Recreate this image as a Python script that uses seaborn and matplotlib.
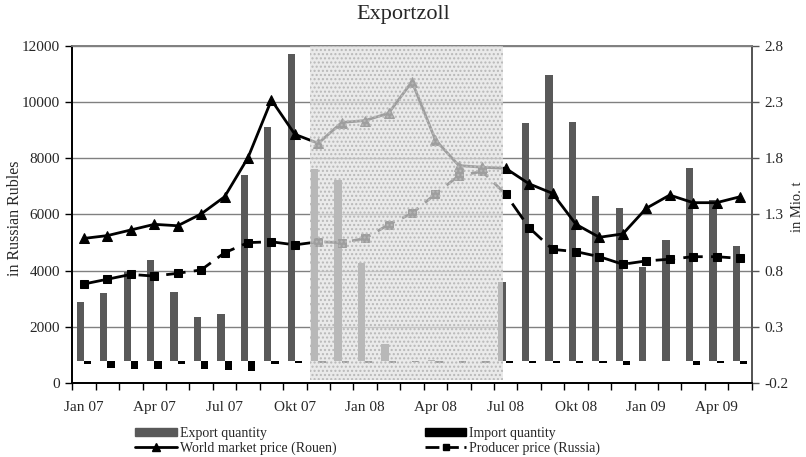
import numpy as np
import pandas as pd
import seaborn as sns
import matplotlib.pyplot as plt
from matplotlib.patches import Patch
from matplotlib.lines import Line2D

# Monthly data Jan 07 - May 09
months = ["Jan 07", "Feb 07", "Mär 07", "Apr 07", "Mai 07", "Jun 07", "Jul 07", "Aug 07", "Sep 07",
          "Okt 07", "Nov 07", "Dez 07", "Jan 08", "Feb 08", "Mär 08", "Apr 08", "Mai 08", "Jun 08",
          "Jul 08", "Aug 08", "Sep 08", "Okt 08", "Nov 08", "Dez 08", "Jan 09", "Feb 09", "Mär 09",
          "Apr 09", "Mai 09"]

# in Mio. t (right axis)
export_qty = [0.52, 0.60, 0.79, 0.90, 0.61, 0.39, 0.42, 1.65, 2.08, 2.73, 1.70, 1.61, 0.87, 0.15,
              0.0, 0.01, 0.0, 0.0, 0.70, 2.11, 2.54, 2.12, 1.46, 1.36, 0.83, 1.07, 1.71, 1.43, 1.02]
import_qty = [-0.03, -0.06, -0.07, -0.07, -0.03, -0.07, -0.08, -0.09, -0.025, -0.02, -0.02, -0.02,
              -0.02, -0.02, -0.015, -0.02, -0.02, -0.02, -0.02, -0.02, -0.02, -0.02, -0.02, -0.04,
              0.0, 0.0, -0.04, -0.02, -0.03]

# in Russian Rubles (left axis)
world_price = [5150, 5250, 5450, 5650, 5600, 6020, 6630, 8020, 10070, 8850, 8530, 9270, 9340, 9600,
               10720, 8650, 7740, 7680, 7640, 7090, 6750, 5650, 5190, 5310, 6220, 6690, 6420, 6420, 6630]
producer_price = [3530, 3700, 3870, 3810, 3910, 4030, 4640, 5000, 5030, 4920, 5030, 5000, 5150, 5640,
                  6040, 6730, 7380, 7530, 6720, 5530, 4760, 4680, 4500, 4230, 4350, 4410, 4500, 4500, 4440]

tick_labels = ["Jan 07", "Apr 07", "Jul 07", "Okt 07", "Jan 08", "Apr 08", "Jul 08", "Okt 08",
               "Jan 09", "Apr 09"]
right_ticks = [-0.2, 0.3, 0.8, 1.3, 1.8, 2.3, 2.8]
left_ticks = [0, 2000, 4000, 6000, 8000, 10000, 12000]

sns.set_theme(style="white")
plt.rcParams["font.family"] = ["Liberation Serif", "DejaVu Serif"]
plt.rcParams["font.size"] = 10
plt.rcParams["hatch.linewidth"] = 1.0

x = np.arange(len(months))
bars_df = pd.DataFrame({
    "month": months * 2,
    "value": export_qty + import_qty,
    "series": ["Export quantity"] * len(months) + ["Import quantity"] * len(months),
})

fig = plt.figure(figsize=(8.06, 4.57), dpi=100)
ax = fig.add_axes([0.0897, 0.1613, 0.8429, 0.7387])
ax2 = ax.twinx()

# Bars on the quantity axis (drawn behind the lines)
sns.barplot(data=bars_df, x="month", y="value", hue="series",
            hue_order=["Export quantity", "Import quantity"],
            palette=["#595959", "black"], saturation=1, width=0.62,
            linewidth=0, legend=False, ax=ax)
ax.set_xlim(-0.5, len(months) - 0.5)
ax.set_ylim(-0.2, 2.8)
ax.set_yticks(right_ticks)
ax.set_yticklabels([f"{t:.1f}" for t in right_ticks])
ax.set_xlabel("")
ax.grid(axis="y", color="#808080", lw=1)
ax.set_axisbelow(True)

# tick marks at month boundaries, labels every third month
ax.set_xticks(np.arange(-0.5, len(months), 1))
ax.set_xticklabels([])
ax.set_xticks(np.arange(0, len(months), 3), minor=True)
ax.set_xticklabels(tick_labels, minor=True, fontsize=11)
ax.tick_params(axis="x", which="major", direction="out", length=5, width=1, color="black", bottom=True)
ax.tick_params(axis="x", which="minor", length=0, pad=13)

# Price lines on the Rubles axis
sns.lineplot(x=x, y=world_price, color="black", marker="^", markersize=7, lw=2,
             markeredgecolor="black", ax=ax2)
sns.lineplot(x=x, y=producer_price, color="black", marker="s", markersize=6, lw=2,
             linestyle=(0, (7, 3)), markeredgecolor="black", ax=ax2)
ax2.set_ylim(0, 12000)
ax2.set_yticks(left_ticks)

# swap sides: quantity on the right, rubles on the left
ax.yaxis.tick_right()
ax.set_ylabel("in Mio. t", fontsize=10.5)
ax.yaxis.set_label_position("right")
ax.yaxis.set_label_coords(1.058, 0.524)
ax.tick_params(axis="y", direction="out", length=5, width=1, color="#555555", right=True, left=False,
               labelsize=11, pad=4)
ax2.yaxis.tick_left()
ax2.set_ylabel("in Russian Rubles", fontsize=11.5)
ax2.yaxis.set_label_position("left")
ax2.yaxis.set_label_coords(-0.072, 0.49)
ax2.tick_params(axis="y", direction="out", length=5, width=1, color="black", left=True, right=False,
                labelsize=11, pad=4)

# export tax period overlay
ax2.axvspan(9.63, 17.9, ymin=0.01, ymax=1, facecolor="#e2e2e2", alpha=0.7, lw=0, zorder=5)
ax2.axvspan(9.63, 17.9, ymin=0.01, ymax=1, facecolor="none", edgecolor="#b8b8b8", hatch="....",
            lw=0, zorder=6)

for a in (ax, ax2):
    a.spines["top"].set_color("#808080")
    a.spines["bottom"].set_color("black")
    a.spines["left"].set_color("black")
    a.spines["right"].set_color("#555555")

fig.suptitle("Exportzoll", fontsize=16, y=0.99)

handles = [Patch(facecolor="#595959", edgecolor="#595959"),
           Line2D([], [], color="black", lw=2, marker="^", markersize=6),
           Patch(facecolor="black", edgecolor="black"),
           Line2D([], [], color="black", lw=2, ls=(0, (5, 2)), marker="s", markersize=5)]
labels = ["Export quantity", "World market price (Rouen)", "Import quantity", "Producer price (Russia)"]
fig.legend(handles, labels, ncol=2, loc="upper left", bbox_to_anchor=(0.168, 0.066), frameon=False,
           fontsize=10, handlelength=3.0, handleheight=0.5, handletextpad=0.2, columnspacing=6.35,
           labelspacing=0.1, borderpad=0, borderaxespad=0)

plt.savefig("out.png", dpi=100)
